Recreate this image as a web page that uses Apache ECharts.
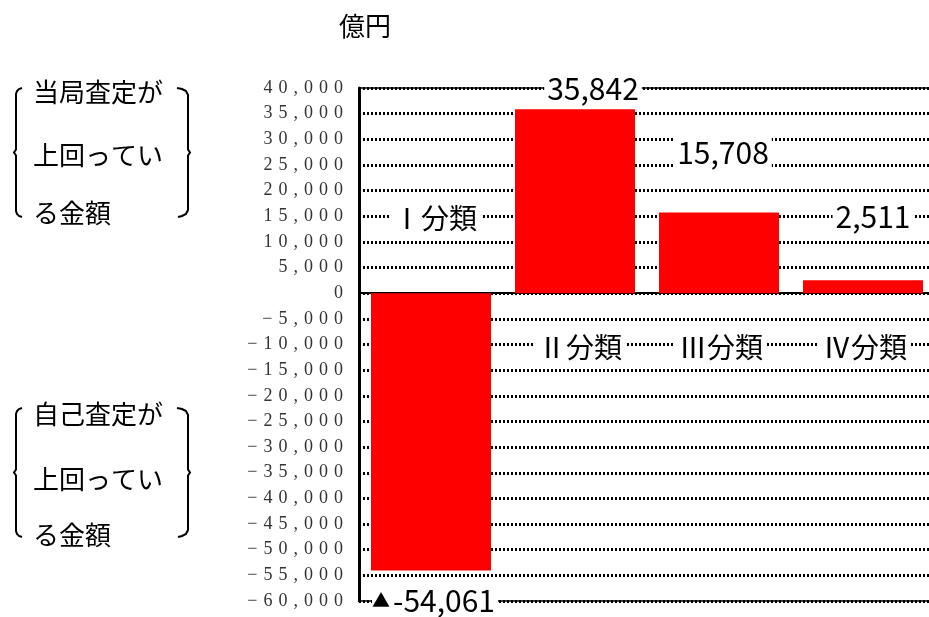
<!DOCTYPE html>
<html>
<head>
<meta charset="utf-8">
<script src="https://cdn.jsdelivr.net/npm/echarts@6/dist/echarts.min.js"></script>
<style>
  html, body { margin: 0; padding: 0; background: #fff; }
  #chart { width: 929px; height: 617px; }
</style>
</head>
<body>
<div id="chart"></div>
<script>
// Classification totals (億円)
const categories = ['Ⅰ分類', 'Ⅱ分類', 'Ⅲ分類', 'Ⅳ分類'];
const values = [-54061, 35842, 15708, 2511];

// Value axis range and step
const yMin = -60000;
const yMax = 40000;
const yStep = 5000;

// Annotation texts
const unitLabel = '億円';
const upperNote = ['当局査定が', '上回ってい', 'る金額'];
const lowerNote = ['自己査定が', '上回ってい', 'る金額'];

// Value label placement: [horizontal nudge, gap from the bar end]
const valueLabelPlace = [[4, 14], [18, 5], [4, 44], [10, 48]];
// Category name placement: [horizontal nudge, gap from the zero line]
const nameLabelPlace = [[4, 59], [5, 38], [2, 38], [2, 38]];

const CJK = '"Noto Sans CJK JP", "Noto Sans", sans-serif';
const SP = '\u2004';

function tickText(v) {
  const body = Math.abs(v).toLocaleString('en-US').split('').join(SP);
  return v < 0 ? '\u2212' + SP + body : body;
}

function valueText(v) {
  const s = v.toLocaleString('en-US');
  return v < 0 ? '{t|▲}{n|' + s + '}' : '{n|' + s + '}';
}

// Value labels at the outer end of each bar
const barData = values.map((v, i) => ({
  value: v,
  label: {
    position: v < 0 ? 'bottom' : 'top',
    distance: valueLabelPlace[i][1],
    offset: [valueLabelPlace[i][0], 0]
  }
}));

// Category names on the side of the zero line opposite to the bar
const nameData = values.map((v, i) => ({
  value: v,
  label: {
    position: v < 0 ? 'top' : 'bottom',
    distance: nameLabelPlace[i][1],
    offset: [nameLabelPlace[i][0], 0]
  }
}));

// Bracketed side notes, drawn as rounded polylines
function bracketLines(top, bottom) {
  const mid = (top + bottom) / 2;
  const left = [[22, top], [19, top + 1], [17, top + 3], [16, top + 6], [16, mid - 3], [14, mid], [16, mid + 3],
    [16, bottom - 6], [17, bottom - 3], [19, bottom - 1], [22, bottom]];
  const right = [[177, top], [182, top + 1], [186, top + 3], [188, top + 7], [188, mid - 3], [190, mid], [188, mid + 3],
    [188, bottom - 7], [186, bottom - 3], [182, bottom - 1], [178, bottom]];
  return [left, right].map(pts => ({
    type: 'polyline',
    shape: { points: pts },
    style: { stroke: '#000', lineWidth: 2, fill: null }
  }));
}

function noteTexts(lines, ys) {
  return lines.map((t, i) => ({
    type: 'text',
    style: {
      text: t, x: 33, y: ys[i],
      fontSize: 26, fontFamily: CJK, fill: '#000',
      align: 'left', verticalAlign: 'middle'
    }
  }));
}

const graphics = [
  {
    type: 'text',
    style: {
      text: unitLabel, x: 365, y: 26,
      fontSize: 26, fontFamily: CJK, fill: '#000',
      align: 'center', verticalAlign: 'middle'
    }
  },
  ...noteTexts(upperNote, [92, 155, 213]),
  ...bracketLines(88, 217),
  ...noteTexts(lowerNote, [414, 479, 535]),
  ...bracketLines(408, 537)
];

const chart = echarts.init(document.getElementById('chart'), null, { renderer: 'canvas' });

chart.setOption({
  animation: false,
  backgroundColor: '#fff',
  grid: {
    left: 359, top: 88, width: 576, height: 513,
    show: true, borderColor: '#000', borderWidth: 1.5,
    containLabel: false, outerBoundsMode: 'none'
  },
  xAxis: {
    type: 'category',
    data: categories,
    axisLine: { onZero: true, lineStyle: { color: '#000', width: 2 } },
    axisTick: { show: false },
    splitLine: { show: false },
    axisLabel: { show: false }
  },
  yAxis: {
    type: 'value',
    min: yMin, max: yMax, interval: yStep,
    axisLine: { show: true, lineStyle: { color: '#000', width: 3 } },
    axisTick: { show: false },
    splitLine: { show: true, lineStyle: { color: '#000', width: 3, type: [2, 2] } },
    axisLabel: {
      margin: 16,
      color: '#333',
      fontSize: 18,
      fontFamily: '"Liberation Serif", "DejaVu Serif", serif',
      formatter: tickText
    }
  },
  series: [
    {
      type: 'bar',
      z: 6,
      data: barData,
      barWidth: 120,
      itemStyle: { color: '#ff0000' },
      label: {
        show: true,
        formatter: p => valueText(p.value),
        rich: {
          n: {
            fontSize: 30, fontFamily: CJK, color: '#000',
            lineHeight: 32, backgroundColor: '#fff', padding: [0, 3]
          },
          t: {
            fontSize: 18, fontFamily: CJK, color: '#000',
            lineHeight: 32, backgroundColor: '#fff'
          }
        }
      }
    },
    {
      // invisible twin of the bars, carrying the category names
      type: 'bar',
      z: 7,
      data: nameData,
      barWidth: 120,
      barGap: '-100%',
      itemStyle: { color: 'rgba(0,0,0,0)' },
      silent: true,
      label: {
        show: true,
        formatter: p => p.name,
        fontSize: 28, fontFamily: CJK, color: '#000',
        lineHeight: 32, backgroundColor: '#fff', padding: [0, 4]
      }
    }
  ],
  graphic: { elements: graphics }
});
</script>
</body>
</html>
